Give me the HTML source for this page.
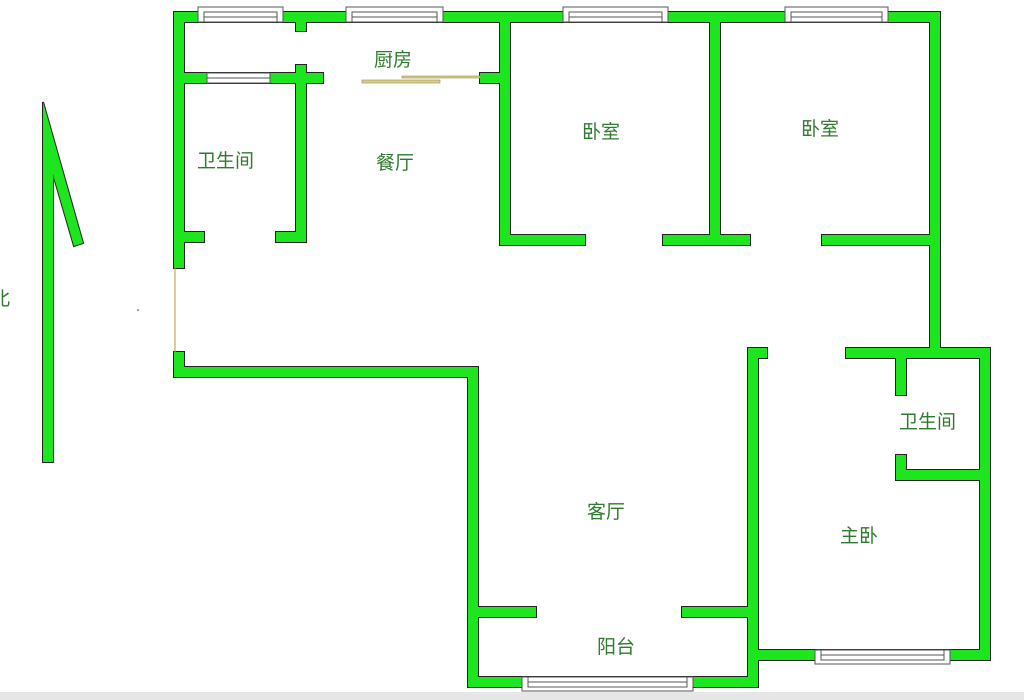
<!DOCTYPE html>
<html><head><meta charset="utf-8"><style>
html,body{margin:0;padding:0;background:#fff;width:1024px;height:700px;overflow:hidden}
svg{display:block}
text{font-family:"Liberation Sans","Noto Sans CJK SC",sans-serif;font-size:19px;fill:#2f7a2f}
</style></head><body>
<svg width="1024" height="700" viewBox="0 0 1024 700" xmlns="http://www.w3.org/2000/svg">
<rect x="0" y="692" width="1024" height="8" fill="#e6e6e6"/>
<defs>
<g id="w">
<rect x="174" y="12" width="766" height="10"/>
<rect x="174" y="12" width="10" height="256"/>
<rect x="174" y="352" width="10" height="25"/>
<rect x="174" y="367" width="304" height="10"/>
<rect x="468" y="367" width="10" height="320"/>
<rect x="468" y="677" width="290" height="10"/>
<rect x="478" y="607" width="58" height="10"/>
<rect x="682" y="607" width="66" height="10"/>
<rect x="748" y="348" width="10" height="339"/>
<rect x="748" y="348" width="19" height="10"/>
<rect x="758" y="650" width="232" height="10"/>
<rect x="980" y="348" width="10" height="312"/>
<rect x="846" y="348" width="144" height="10"/>
<rect x="896" y="348" width="10" height="47"/>
<rect x="896" y="455" width="10" height="25"/>
<rect x="896" y="470" width="84" height="10"/>
<rect x="930" y="12" width="10" height="346"/>
<rect x="500" y="235" width="85" height="10"/>
<rect x="663" y="235" width="87" height="10"/>
<rect x="822" y="235" width="110" height="10"/>
<rect x="500" y="12" width="10" height="233"/>
<rect x="710" y="12" width="10" height="233"/>
<rect x="480" y="73" width="30" height="10"/>
<rect x="184" y="73" width="139" height="10"/>
<rect x="296" y="65" width="10" height="18"/>
<rect x="296" y="73" width="10" height="169"/>
<rect x="276" y="232" width="30" height="10"/>
<rect x="184" y="232" width="20" height="10"/>
<rect x="296" y="12" width="10" height="19"/>
<polygon points="43,102 83,243 74,246 53,174 53,462 43,462"/>
</g>
</defs>
<use href="#w" fill="#222" stroke="#222" stroke-width="2"/>
<use href="#w" fill="#1ee61e"/>
<!-- windows -->
<g fill="#fff" stroke="#555" stroke-width="1">
<rect x="198" y="7" width="85" height="15"/><rect x="204" y="12" width="73" height="10"/>
<rect x="346" y="7" width="97" height="15"/><rect x="352" y="12" width="85" height="10"/>
<rect x="563" y="7" width="105" height="15"/><rect x="569" y="12" width="93" height="10"/>
<rect x="785" y="7" width="103" height="15"/><rect x="791" y="12" width="91" height="10"/>
<rect x="207" y="73" width="63" height="10"/>
<rect x="522" y="677" width="171" height="14"/><rect x="528" y="677" width="159" height="10"/>
<rect x="815" y="650" width="135" height="14"/><rect x="821" y="650" width="123" height="10"/>
</g>
<g stroke="#555" stroke-width="1">
<line x1="207" y1="78" x2="270" y2="78"/><line x1="204" y1="17" x2="277" y2="17"/><line x1="352" y1="17" x2="437" y2="17"/>
<line x1="569" y1="17" x2="662" y2="17"/><line x1="791" y1="17" x2="882" y2="17"/>
<line x1="528" y1="682" x2="687" y2="682"/><line x1="821" y1="655" x2="944" y2="655"/>
</g>
<line x1="175" y1="268" x2="175" y2="352" stroke="#b89a4a" stroke-width="1"/>
<rect x="362" y="80" width="78" height="3" fill="#d8cf88" stroke="#9a8f50" stroke-width="0.6"/>
<rect x="402" y="76" width="78" height="2" fill="#d8cf88" stroke="#9a8f50" stroke-width="0.6"/>
<text x="374" y="66">厨房</text>
<text x="197" y="167">卫生间</text>
<text x="376" y="169">餐厅</text>
<text x="582" y="138">卧室</text>
<text x="801" y="135">卧室</text>
<text x="899" y="428">卫生间</text>
<text x="840" y="542">主卧</text>
<text x="587" y="518">客厅</text>
<text x="597" y="653">阳台</text>
<text x="-9" y="305">北</text>
<circle cx="138" cy="310" r="0.8" fill="#333"/>
</svg>
</body></html>
